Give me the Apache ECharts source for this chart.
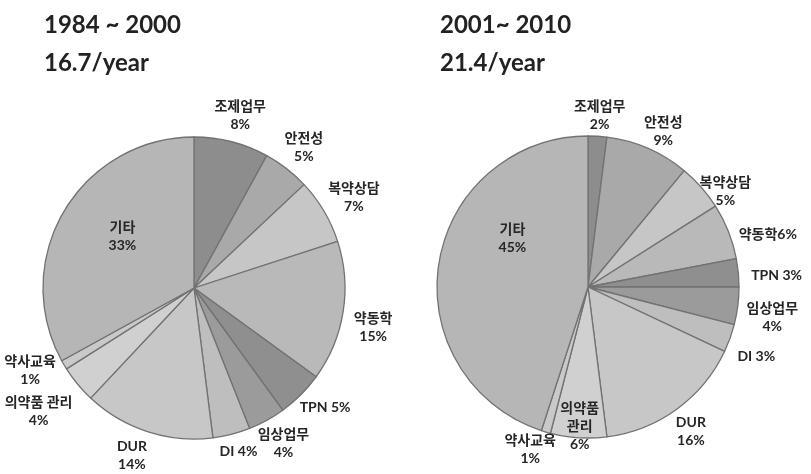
<!DOCTYPE html>
<html>
<head>
<meta charset="utf-8">
<script src="https://cdn.jsdelivr.net/npm/echarts@6/dist/echarts.min.js"></script>
<style>
  html, body { margin: 0; padding: 0; background: #fff; }
  #main { width: 811px; height: 474px; }
</style>
</head>
<body>
<div id="main"></div>
<script>
// data (percent of cases)
var categories = ['조제업무', '안전성', '복약상담', '약동학', 'TPN', '임상업무', 'DI', 'DUR', '의약품 관리', '약사교육', '기타'];
var values1984 = [8, 5, 7, 15, 5, 4, 4, 14, 4, 1, 33];
var values2001 = [2, 9, 5, 6, 3, 4, 3, 16, 6, 1, 45];
var titles = ['1984 ~ 2000\n16.7/year', '2001~ 2010\n21.4/year'];

// grey tone per category
var greys = ['#8d8d8d', '#a9a9a9', '#c6c6c6', '#b9b9b9', '#8f8f8f', '#9b9b9b', '#bebebe', '#c7c7c7', '#d0d0d0', '#c9c9c9', '#b6b6b6'];

var font = 'Lato, "Noto Sans CJK KR", sans-serif';

// how labels are written / placed for each pie
var labelCfg = [
  {
    oneLine: { 'TPN': ' ', 'DI': ' ' },
    inside: { '기타': 1 },
    gap: {},
    nudge: { '기타': [-4, -12], '약사교육': [-4, -8], '의약품 관리': [-6, 10], 'DUR': [-8, -2], '약동학': [2, 12] },
    rename: {}
  },
  {
    oneLine: { '약동학': '', 'TPN': ' ', 'DI': ' ' },
    inside: { '기타': 1 },
    gap: { '의약품 관리': -38 },
    nudge: {
      '기타': [2, -36], '약사교육': [-6, -8], '조제업무': [0, 6], '안전성': [4, 8], '복약상담': [-2, 22],
      '약동학': [4, 10], 'TPN': [4, 4], '임상업무': [0, 8], 'DI': [0, 12]
    },
    rename: { '의약품 관리': '의약품\n관리' }
  }
];

function makeData(values, k) {
  return categories.map(function (c, i) {
    var item = { name: c, value: values[i], itemStyle: { color: greys[i] } };
    if (labelCfg[k].inside[c]) {
      item.label = { position: 'inside' };
    }
    return item;
  });
}

function labelText(k) {
  return function (p) {
    var cfg = labelCfg[k];
    var nm = cfg.rename[p.name] || p.name;
    if (cfg.oneLine[p.name] !== undefined) {
      return nm + cfg.oneLine[p.name] + p.value + '%';
    }
    return nm + '\n' + p.value + '%';
  };
}

// excel-like placement: label box sits just outside the rim, centred on the slice bisector
function placeLabel(k) {
  return function (params) {
    var cfg = labelCfg[k];
    var name = categories[params.dataIndex];
    var nd = cfg.nudge[name] || [0, 0];
    var pts = params.labelLinePoints;
    if (cfg.inside[name] || !pts) {
      return { dx: nd[0], dy: nd[1] };
    }
    var dx = pts[1][0] - pts[0][0], dy = pts[1][1] - pts[0][1];
    var len = Math.sqrt(dx * dx + dy * dy) || 1;
    dx /= len; dy /= len;
    var w = params.labelRect.width, h = params.labelRect.height;
    var gap = cfg.gap[name] !== undefined ? cfg.gap[name] : 9;
    return {
      x: pts[0][0] + dx * (gap + w / 2) + nd[0],
      y: pts[0][1] + dy * (gap + h / 2) + nd[1],
      align: 'center',
      verticalAlign: 'middle'
    };
  };
}

function pieSeries(values, k, center) {
  return {
    type: 'pie',
    center: center,
    radius: 151,
    startAngle: 90,
    clockwise: true,
    avoidLabelOverlap: false,
    animation: false,
    itemStyle: { borderColor: '#727272', borderWidth: 1.3 },
    label: {
      show: true,
      position: 'outside',
      formatter: labelText(k),
      fontFamily: font,
      fontWeight: 'bold',
      fontSize: 14,
      lineHeight: 18,
      color: '#262626',
      align: 'center'
    },
    labelLine: { show: true, length: 6, length2: 0, lineStyle: { opacity: 0 } },
    labelLayout: placeLabel(k),
    emphasis: { disabled: true },
    data: makeData(values, k)
  };
}

var chart = echarts.init(document.getElementById('main'));
var titleStyle = { fontFamily: font, fontSize: 24, fontWeight: 'bold', color: '#222', lineHeight: 38 };
var option = {
  backgroundColor: '#fff',
  title: [
    { text: titles[0], left: 39, top: 1, textStyle: titleStyle },
    { text: titles[1], left: 435, top: 1, textStyle: titleStyle }
  ],
  series: [
    pieSeries(values1984, 0, [194, 288]),
    pieSeries(values2001, 1, [588, 287])
  ]
};
chart.setOption(option);
</script>
</body>
</html>
